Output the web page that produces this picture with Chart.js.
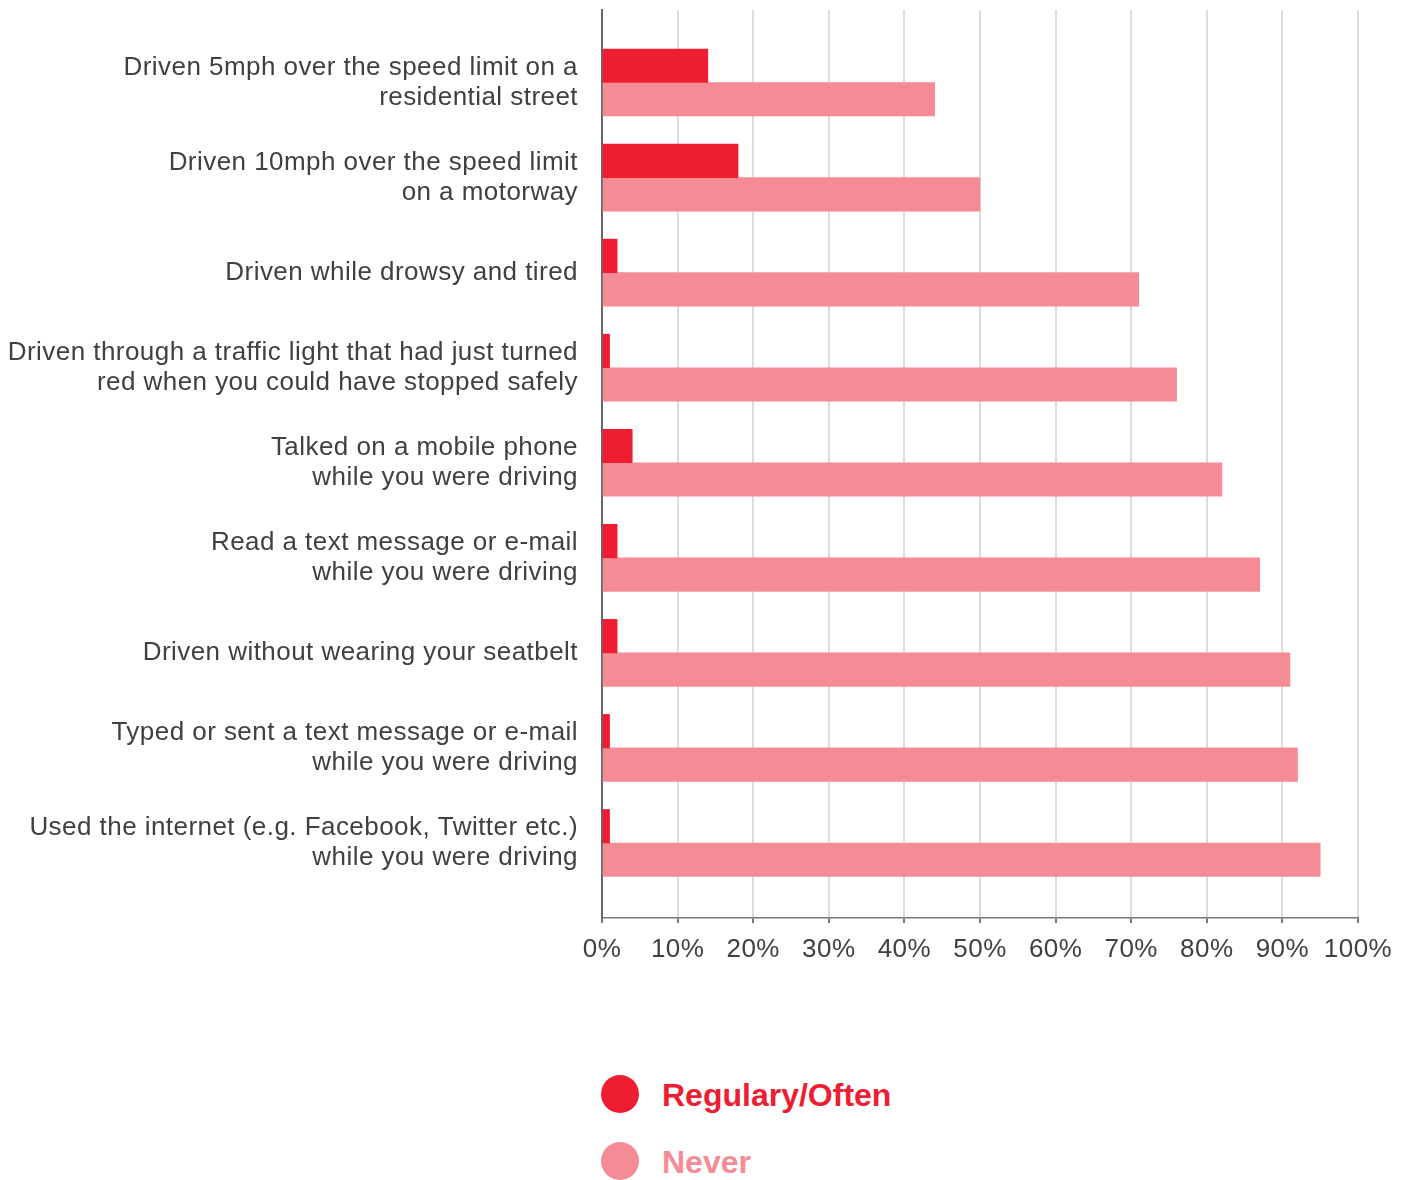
<!DOCTYPE html>
<html>
<head>
<meta charset="utf-8">
<script src="https://cdn.jsdelivr.net/npm/chart.js@4"></script>
<style>
  html, body { margin: 0; padding: 0; background: #fff; }
  #wrap { position: relative; width: 1411px; height: 1180px; }
  #box { position: absolute; left: 0; top: 0; width: 1411px; height: 1000px; }
  .legend { position: absolute; left: 601px; font-family: "Liberation Sans", Arial, sans-serif; font-weight: bold; font-size: 32px; }
  .legend div { position: relative; height: 67px; }
  .legend span.dot { position: absolute; left: 0; top: 0; width: 38px; height: 38px; border-radius: 50%; }
  .legend span.txt { position: absolute; left: 61px; top: 2px; white-space: nowrap; }
</style>
</head>
<body>
<div id="wrap">
  <div id="box"><canvas id="surveyChart"></canvas></div>
  <div class="legend" id="legend" style="top:1075px"></div>
</div>
<script>
// behaviours asked about, one label per row (split into lines)
const categories = [
  ['Driven 5mph over the speed limit on a', 'residential street'],
  ['Driven 10mph over the speed limit', 'on a motorway'],
  ['Driven while drowsy and tired'],
  ['Driven through a traffic light that had just turned', 'red when you could have stopped safely'],
  ['Talked on a mobile phone', 'while you were driving'],
  ['Read a text message or e-mail', 'while you were driving'],
  ['Driven without wearing your seatbelt'],
  ['Typed or sent a text message or e-mail', 'while you were driving'],
  ['Used the internet (e.g. Facebook, Twitter etc.)', 'while you were driving']
];
const seriesNames = ['Regulary/Often', 'Never'];
const regularly = [14, 18, 2, 1, 4, 2, 2, 1, 1];
const never = [44, 50, 71, 76, 82, 87, 91, 92, 95];
const xTicks = [0, 10, 20, 30, 40, 50, 60, 70, 80, 90, 100];

const RED = '#EE1D32';
const PINK = '#F58C95';
const FONT = '"Liberation Sans", Arial, sans-serif';

const toPoints = arr => arr.map((v, i) => ({ x: v, y: i }));

// slightly looser tracking for the axis text
const spacing = {
  id: 'spacing',
  beforeDraw(chart) { chart.ctx.letterSpacing = '0.45px'; }
};

new Chart(document.getElementById('surveyChart'), {
  type: 'bar',
  data: {
    datasets: [
      { label: seriesNames[0], data: toPoints(regularly), backgroundColor: RED, barThickness: 33.5 },
      { label: seriesNames[1], data: toPoints(never), backgroundColor: PINK, barThickness: 33.5 }
    ]
  },
  plugins: [spacing],
  options: {
    indexAxis: 'y',
    responsive: true,
    maintainAspectRatio: false,
    animation: false,
    layout: { padding: { top: 10, right: 53, left: 0, bottom: 0 } },
    plugins: { legend: { display: false }, tooltip: { enabled: false } },
    scales: {
      x: {
        type: 'linear',
        min: 0,
        max: 100,
        afterBuildTicks: axis => { axis.ticks = xTicks.map(v => ({ value: v })); },
        afterFit: s => { s.height = 82; },
        grid: { color: '#dcdcdc', lineWidth: 2, tickColor: '#777', tickLength: 5, drawTicks: true },
        border: { display: true, color: '#777', width: 1.5 },
        ticks: {
          padding: 11,
          color: '#404040',
          font: { family: FONT, size: 26 },
          callback: v => v + '%'
        }
      },
      y: {
        type: 'linear',
        reverse: true,
        offset: false,
        min: -0.763,
        max: 8.789,
        afterBuildTicks: axis => { axis.ticks = categories.map((_, i) => ({ value: i })); },
        afterFit: s => { s.width = 602; s.paddingTop = 0; s.paddingBottom = 0; },
        grid: { display: false, drawTicks: false, offset: false },
        border: { display: true, color: '#666', width: 2 },
        ticks: {
          padding: 24,
          color: '#404040',
          font: { family: FONT, size: 26, lineHeight: 1.15 },
          callback: v => categories[v]
        }
      }
    }
  }
});

// stacked legend under the chart
const legend = document.getElementById('legend');
[RED, PINK].forEach((c, i) => {
  const row = document.createElement('div');
  row.innerHTML = '<span class="dot" style="background:' + c + '"></span><span class="txt" style="color:' + c + '">' + seriesNames[i] + '</span>';
  legend.appendChild(row);
});
</script>
</body>
</html>
